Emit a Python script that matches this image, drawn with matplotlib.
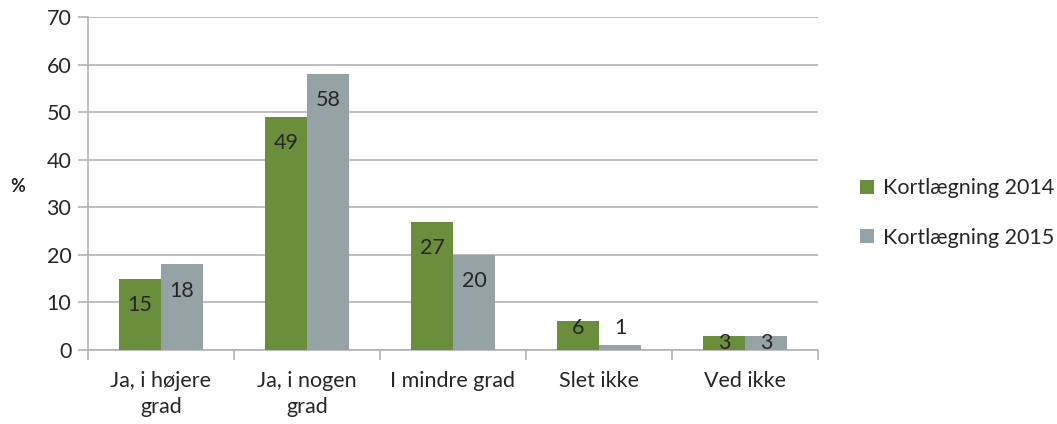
import matplotlib
matplotlib.use("Agg")
import matplotlib.pyplot as plt
import numpy as np

categories = ["Ja, i højere\ngrad", "Ja, i nogen\ngrad", "I mindre grad", "Slet ikke", "Ved ikke"]
series_names = ["Kortlægning 2014", "Kortlægning 2015"]
values_2014 = [15, 49, 27, 6, 3]
values_2015 = [18, 58, 20, 1, 3]
yticks = [0, 10, 20, 30, 40, 50, 60, 70]

green = "#6a8e3b"
grey = "#95a3a7"
gridc = "#b3b3b3"
textc = "#262626"
fs = 15.5

plt.rcParams['font.family'] = ['Lato', 'DejaVu Sans']

fig = plt.figure(figsize=(10.57, 4.24), dpi=100)
ax = fig.add_axes([88/1057, 1 - 350/424, (818-88)/1057, (350-17)/424])

x = np.arange(len(categories))
w = 0.288
b1 = ax.bar(x - w/2, values_2014, w, color=green, label=series_names[0], zorder=3)
b2 = ax.bar(x + w/2, values_2015, w, color=grey, label=series_names[1], zorder=3)

def label_y(v):
    if v >= 10:
        return v - 5.5
    if v >= 5 or v <= 1:
        return 4.6
    return 1.5

for bars, vals in ((b1, values_2014), (b2, values_2015)):
    for r, v in zip(bars, vals):
        ax.text(r.get_x() + r.get_width()/2, label_y(v), f"{v}", ha="center", va="center",
                fontsize=fs, color=textc, zorder=4)

ax.set_xlim(-0.5, len(categories) - 0.5)
ax.set_ylim(0, 70)
ax.set_yticks(yticks)
ax.set_yticklabels([str(t) for t in yticks], fontsize=fs, color=textc)
ax.yaxis.grid(True, color=gridc, linewidth=1.2, zorder=0)
ax.set_axisbelow(True)

ax.set_xticks(np.arange(len(categories) + 1) - 0.5, minor=False)
ax.set_xticklabels([])
ax.set_xticks(x, minor=True)
ax.set_xticklabels(categories, minor=True, fontsize=fs, color=textc, linespacing=1.4)
ax.tick_params(axis='x', which='minor', length=0, pad=15)
ax.tick_params(axis='x', which='major', length=7, color=gridc, width=1.2)
ax.tick_params(axis='y', length=7, color=gridc, width=1.2, pad=5)

for s in ["top", "right"]:
    ax.spines[s].set_visible(False)
for s in ["left", "bottom"]:
    ax.spines[s].set_color(gridc)
    ax.spines[s].set_linewidth(1.2)

fig.text(18/1057, 1 - 187/424, "%", fontsize=13, fontweight="bold", color=textc, ha="center", va="center")

ax.legend(loc="center left", bbox_to_anchor=(860/1057, 1 - 213/424), bbox_transform=fig.transFigure,
          frameon=False, fontsize=fs, handlelength=0.65, handleheight=0.65, handletextpad=0.4,
          labelspacing=1.35, labelcolor=textc, borderpad=0, borderaxespad=0)

fig.savefig("out.png", dpi=100)
